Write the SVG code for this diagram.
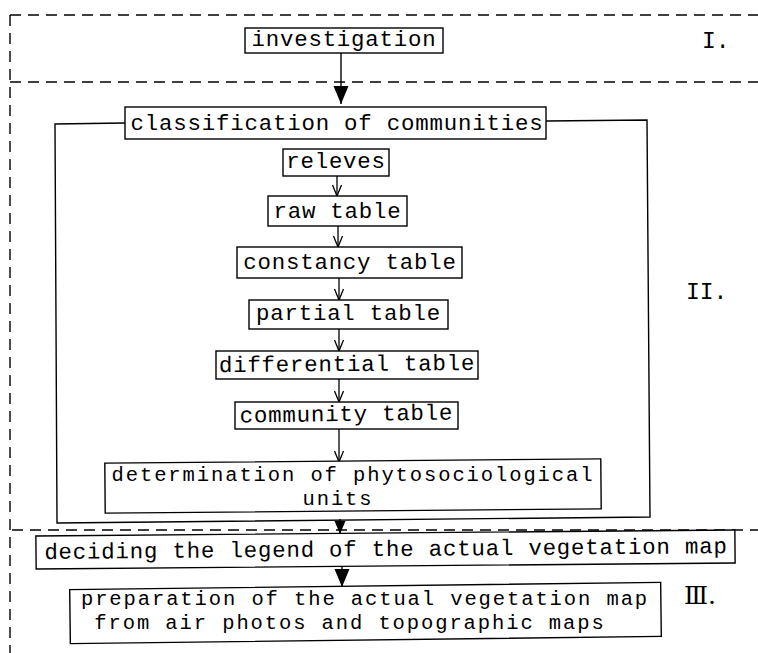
<svg xmlns="http://www.w3.org/2000/svg" width="758" height="653" viewBox="0 0 758 653">
<style>
.box{fill:#fff;stroke:#000;stroke-width:1.4}
.t{font-family:"Liberation Mono","DejaVu Sans Mono",monospace;font-size:22.4px;letter-spacing:0.8px;fill:#000;text-anchor:middle}
.t2{font-family:"Liberation Mono","DejaVu Sans Mono",monospace;font-size:20.5px;letter-spacing:1.9px;fill:#000;text-anchor:middle}
.lab{font-family:"Liberation Mono","DejaVu Sans Mono",monospace;font-size:23px;fill:#000}
.dash{stroke:#000;stroke-width:1.4;stroke-dasharray:11 7;fill:none}
.line{stroke:#000;stroke-width:1.4;fill:none}
.vee{stroke:#000;stroke-width:1.3;fill:none;marker-end:url(#vee)}
.fill{stroke:#000;stroke-width:1.4;fill:none}
</style>
<defs>
<marker id="vee" markerUnits="userSpaceOnUse" markerWidth="14" markerHeight="12" viewBox="-12 -6 14 12" refX="0" refY="0" orient="auto">
<path d="M-11,-4.5 L0,0 L-11,4.5" fill="none" stroke="#000" stroke-width="1.3"/>
</marker>
<marker id="tri" markerUnits="userSpaceOnUse" markerWidth="20" markerHeight="18" viewBox="-19 -9 20 18" refX="0" refY="0" orient="auto">
<path d="M-18,-7.5 L0,0 L-18,7.5 Z" fill="#000"/>
</marker>
<marker id="tri2" markerUnits="userSpaceOnUse" markerWidth="20" markerHeight="16" viewBox="-19 -8 20 16" refX="0" refY="0" orient="auto">
<path d="M-13,-5.5 L0,0 L-13,5.5 Z" fill="#000"/>
</marker>
</defs>
<rect width="758" height="653" fill="#fff"/>

<g id="phases">
<path class="dash" d="M10,15 H758"/>
<path class="dash" d="M10,15 V653"/>
<path class="dash" d="M10,82 H758"/>
<path class="dash" d="M12,530 H758"/>
<text class="lab" x="702" y="48">I.</text>
<text class="lab" x="686" y="299">II.</text>
<text class="lab" x="684" y="604" style="font-family:'DejaVu Serif','Noto Sans CJK JP',serif;font-size:25px">Ⅲ.</text>
</g>

<g id="connectors">
<path class="fill" d="M341,53 V104" marker-end="url(#tri)"/>
<path class="vee" d="M337,176 V196"/>
<path class="vee" d="M338,226 V247"/>
<path class="vee" d="M339,278 V300"/>
<path class="vee" d="M339,329 V351"/>
<path class="vee" d="M339,379 V402"/>
<path class="vee" d="M339,429 V462"/>
<path class="fill" d="M340,519 V534" marker-end="url(#tri2)"/>
<path class="fill" d="M342,567 V587" marker-end="url(#tri)"/>
</g>

<g id="classification-frame">
<path class="line" d="M125,123 L55,124 L57,523 L650,517 L647,120 L546,121"/>
</g>

<g id="investigation">
<rect class="box" x="245" y="28" width="198" height="25"/>
<text class="t" x="344" y="46">investigation</text>
</g>

<g id="classification">
<rect class="box" x="125" y="107" width="421" height="32"/>
<text class="t" x="337" y="130">classification of communities</text>
</g>

<g id="releves">
<rect class="box" x="283" y="149" width="106" height="27"/>
<text class="t" x="336" y="168">releves</text>
</g>

<g id="raw-table">
<rect class="box" x="268" y="196" width="139" height="30"/>
<text class="t" x="337.5" y="218">raw table</text>
</g>

<g id="constancy-table">
<rect class="box" x="237" y="247" width="225" height="31"/>
<text class="t" x="350" y="269">constancy table</text>
</g>

<g id="partial-table">
<rect class="box" x="249" y="300" width="199" height="29"/>
<text class="t" x="348.5" y="320">partial table</text>
</g>

<g id="differential-table">
<rect class="box" x="216" y="351" width="262" height="28"/>
<text class="t" x="347" y="371" transform="rotate(-0.5 347 366)">differential table</text>
</g>

<g id="community-table">
<rect class="box" x="235" y="402" width="223" height="27"/>
<text class="t" x="346.5" y="421" transform="rotate(-0.8 346 416)">community table</text>
</g>

<g id="determination">
<rect class="box" x="105" y="461" width="496" height="50" transform="rotate(-0.5 353 486)"/>
<text class="t2" x="353" y="481">determination of phytosociological</text>
<text class="t2" x="338" y="504.5">units</text>
</g>

<g id="deciding">
<rect class="box" x="36" y="533" width="699" height="33" transform="rotate(-0.5 385.5 549.5)"/>
<text class="t" x="386" y="556" transform="rotate(-0.5 386 550)">deciding the legend of the actual vegetation map</text>
</g>

<g id="preparation">
<rect class="box" x="70" y="586" width="591" height="54" transform="rotate(-0.7 365.5 613)"/>
<text class="t2" x="365" y="605">preparation of the actual vegetation map</text>
<text class="t2" x="350" y="628.5">from air photos and topographic maps</text>
</g>
</svg>
